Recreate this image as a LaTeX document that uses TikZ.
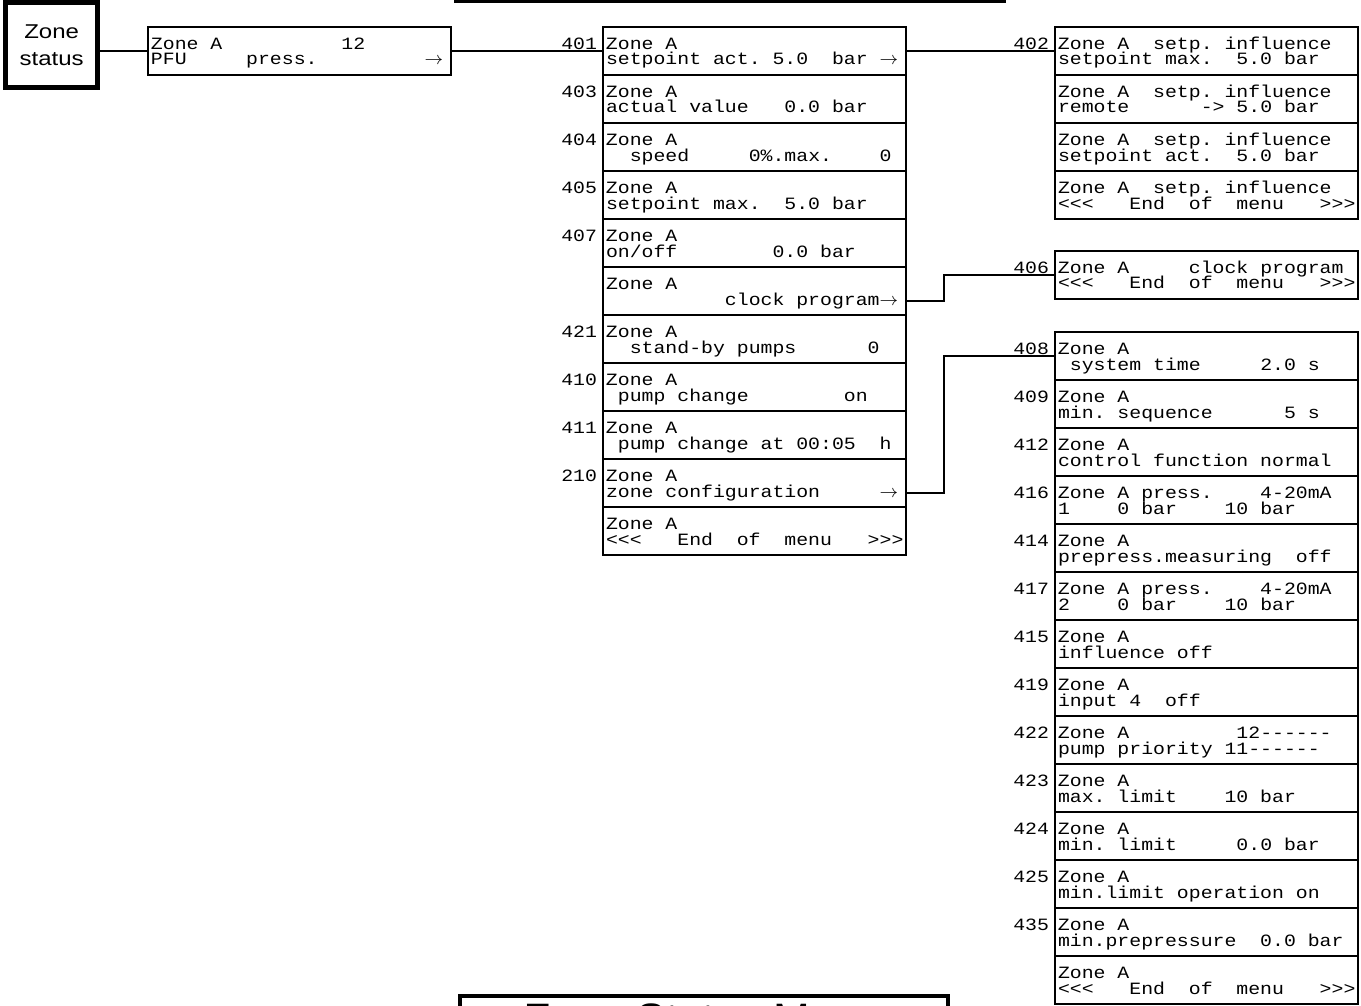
\documentclass[tikz,border=0pt]{standalone}
\usepackage{fontspec}
\setmainfont{Liberation Sans}
\setmonofont{Liberation Mono}[FakeStretch=1.15]
\newfontfamily\widesans{Liberation Sans}[FakeStretch=1.2]
\usetikzlibrary{positioning}

% two-line display: number, first line, second line
\newcommand\lcd[3]{\vbox to 24pt{\offinterlineskip\kern11.25pt
  \hbox to 151.5pt{\smash{\hskip1.5pt\llap{#1\hskip4.5pt}#2}\hss}\kern7.75pt
  \hbox to 151.5pt{\smash{\hskip1.5pt#3}\hss}\vss}}
\newcommand\rarr{\rlap{$\rightarrow$}}

\begin{document}
\begin{tikzpicture}[
  x=0.5pt, y=0.5pt, line width=1pt,
  scr/.style={draw, inner sep=0pt, outer sep=0pt,
    font=\ttfamily\fontsize{8.62}{8.62}\selectfont\frenchspacing},
  title/.style={draw, line width=2.5pt, align=center, minimum width=45.85pt,
    minimum height=42.75pt, font=\widesans\fontsize{10}{13.5}\selectfont},
  menu/.style={draw, line width=2pt, inner xsep=0pt, inner ysep=4pt, outer sep=0pt,
    minimum width=244pt, font=\fontsize{22}{26}\selectfont}
]
  \useasboundingbox (0,0) rectangle (1361,-1006);
  \clip (0,0) rectangle (1361,-1006);

  \node[menu, minimum width=274pt, minimum height=40pt, anchor=south west] (prev) at (456,-1) {};
  \node[title] (zs) at (51.65,-45.25) {Zone\\status};
  \node[scr] (pfu) at (299.5,-51) {\lcd{}{Zone A~~~~~~~~~~12}{PFU~~~~~press.~~~~~~~~~\rarr}};

  % zone menu
  \node[scr] (m401) at (754.5,-51) {\lcd{401}{Zone A}{setpoint act.~5.0~~bar~\rarr}};
  \node[scr, below=0pt of m401] (m403) {\lcd{403}{Zone A}{actual value~~~0.0 bar}};
  \node[scr, below=0pt of m403] (m404) {\lcd{404}{Zone A}{~~speed~~~~~0\%.max.~~~~0}};
  \node[scr, below=0pt of m404] (m405) {\lcd{405}{Zone A}{setpoint max.~~5.0 bar}};
  \node[scr, below=0pt of m405] (m407) {\lcd{407}{Zone A}{on/off~~~~~~~~0.0 bar}};
  \node[scr, below=0pt of m407] (clk) {\lcd{}{Zone A}{~~~~~~~~~~clock program\rarr}};
  \node[scr, below=0pt of clk] (m421) {\lcd{421}{Zone A}{~~stand-by pumps~~~~~~0}};
  \node[scr, below=0pt of m421] (m410) {\lcd{410}{Zone A}{~pump change~~~~~~~~on}};
  \node[scr, below=0pt of m410] (m411) {\lcd{411}{Zone A}{~pump change at 00:05~~h}};
  \node[scr, below=0pt of m411] (m210) {\lcd{210}{Zone A}{zone configuration~~~~~\rarr}};
  \node[scr, below=0pt of m210] (mend) {\lcd{}{Zone A}{<<<~~~End~~of~~menu~~~>>>}};

  % setpoint influence
  \node[scr] (m402) at (1206.5,-51) {\lcd{402}{Zone A~~setp. influence}{setpoint max.~~5.0 bar}};
  \node[scr, below=0pt of m402] (si2) {\lcd{}{Zone A~~setp. influence}{remote~~~~~~-> 5.0 bar}};
  \node[scr, below=0pt of si2] (si3) {\lcd{}{Zone A~~setp. influence}{setpoint act.~~5.0 bar}};
  \node[scr, below=0pt of si3] (si4) {\lcd{}{Zone A~~setp. influence}{<<<~~~End~~of~~menu~~~>>>}};

  % clock program
  \node[scr] (m406) at (1206.5,-274.5) {\lcd{406}{Zone A~~~~~clock program}{<<<~~~End~~of~~menu~~~>>>}};

  % zone configuration
  \node[scr] (m408) at (1206.5,-356) {\lcd{408}{Zone A}{~system time~~~~~2.0 s}};
  \node[scr, below=0pt of m408] (m409) {\lcd{409}{Zone A}{min. sequence~~~~~~5 s}};
  \node[scr, below=0pt of m409] (m412) {\lcd{412}{Zone A}{control function normal}};
  \node[scr, below=0pt of m412] (m416) {\lcd{416}{Zone A press.~~~~4-20mA}{1~~~~0 bar~~~~10 bar}};
  \node[scr, below=0pt of m416] (m414) {\lcd{414}{Zone A}{prepress.measuring~~off}};
  \node[scr, below=0pt of m414] (m417) {\lcd{417}{Zone A press.~~~~4-20mA}{2~~~~0 bar~~~~10 bar}};
  \node[scr, below=0pt of m417] (m415) {\lcd{415}{Zone A}{influence off}};
  \node[scr, below=0pt of m415] (m419) {\lcd{419}{Zone A}{input 4~~off}};
  \node[scr, below=0pt of m419] (m422) {\lcd{422}{Zone A~~~~~~~~~12------}{pump priority 11------}};
  \node[scr, below=0pt of m422] (m423) {\lcd{423}{Zone A}{max. limit~~~~10 bar}};
  \node[scr, below=0pt of m423] (m424) {\lcd{424}{Zone A}{min. limit~~~~~0.0 bar}};
  \node[scr, below=0pt of m424] (m425) {\lcd{425}{Zone A}{min.limit operation on}};
  \node[scr, below=0pt of m425] (m435) {\lcd{435}{Zone A}{min.prepressure~~0.0 bar}};
  \node[scr, below=0pt of m435] (cend) {\lcd{}{Zone A}{<<<~~~End~~of~~menu~~~>>>}};

  \node[menu, anchor=north west] (zsm) at (460,-996) {Zone Status Menu};

  \draw (zs.east |- pfu.west) -- (pfu);
  \draw (pfu) -- (m401);
  \draw (m401) -- (m402);
  \draw ([yshift=-5pt]clk.east) -- ++(19pt,0) |- (m406);
  \draw ([yshift=-5pt]m210.east) -- ++(19pt,0) |- (m408);
\end{tikzpicture}
\end{document}
